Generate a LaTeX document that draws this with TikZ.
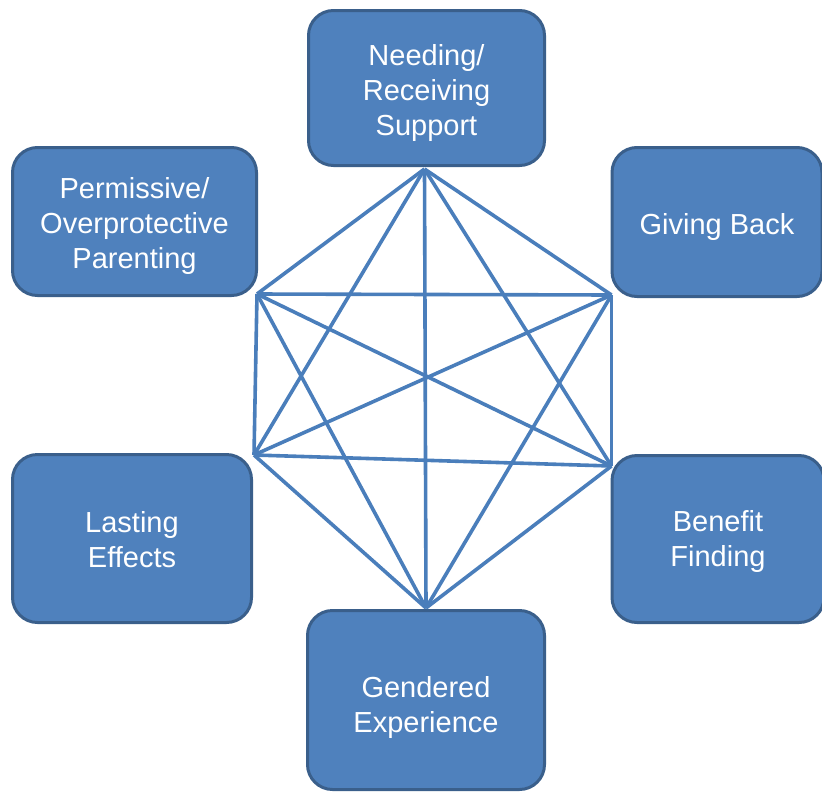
\documentclass[tikz,border=0pt]{standalone}
\usepackage{fontspec}
\setmainfont{Liberation Sans}
\definecolor{boxfill}{HTML}{4F81BD}
\definecolor{boxedge}{HTML}{3A5F8B}
\definecolor{linkblue}{HTML}{4A7EBB}
\tikzset{
    theme/.style={draw=boxedge, fill=boxfill, line width=3pt, rounded corners=25pt, inner sep=0pt},
    caption/.style={text=white, align=center, inner sep=0pt, font=\fontsize{29}{35}\selectfont},
    link/.style={draw=linkblue, line width=3.6pt}
}
\begin{document}
\begin{tikzpicture}[x=1pt,y=-1pt]
                \useasboundingbox (0,0) rectangle (822,793);
                % themes
                \node[theme, minimum width=236pt, minimum height=155pt,
                    label={[caption,yshift=-5pt]center:Needing/\\Receiving\\Support}] (need) at (426.5,88) {};
                \node[theme, minimum width=244pt, minimum height=148pt,
                    label={[caption,yshift=-4pt]center:Permissive/\\Overprotective\\Parenting}] (perm) at (134.5,221.5) {};
                \node[theme, minimum width=210pt, minimum height=149pt,
                    label={[caption,yshift=-5pt]center:Giving Back}] (give) at (717,222) {};
                \node[theme, minimum width=239pt, minimum height=168pt,
                    label={[caption,yshift=-1pt]center:Lasting\\Effects}] (last) at (132,538.5) {};
                \node[theme, minimum width=212pt, minimum height=167pt,
                    label={[caption,yshift=-2pt]center:Benefit\\Finding}] (ben) at (718,539) {};
                \node[theme, minimum width=237pt, minimum height=179pt,
                    label={[caption,yshift=-7pt]center:Gendered\\Experience}] (gend) at (426,700) {};
                % meeting points
                \coordinate (N) at ([xshift=-2pt,yshift=-2pt]need.south);
                \coordinate (P) at ([xshift=-1pt,yshift=3pt]perm.south east);
                \coordinate (G) at ([xshift=1pt,yshift=3pt]give.south west);
                \coordinate (L) at ([xshift=1pt,yshift=-2pt]last.north east);
                \coordinate (B) at ([xshift=1pt,yshift=-12pt]ben.north west);
                \coordinate (E) at ([yshift=1pt]gend.north);
                % every theme linked with every other
                \foreach \a/\b in {N/P,N/G,N/L,N/B,N/E,P/G,P/L,P/B,P/E,G/L,G/B,G/E,L/B,L/E,B/E}
                    \draw[link] (\a) -- (\b);
            \end{tikzpicture}
\end{document}
